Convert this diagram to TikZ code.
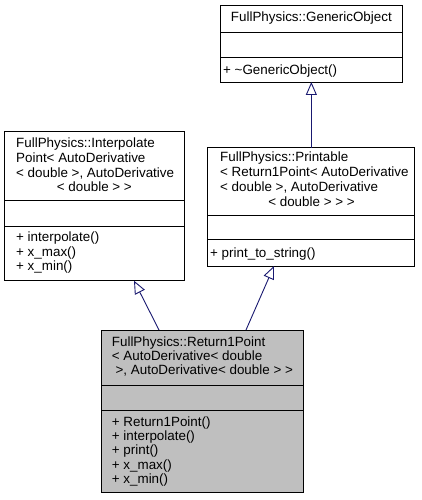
\documentclass[tikz,border=0pt]{standalone}
\usepackage{fontspec}
\setmainfont{Liberation Sans}
\usetikzlibrary{arrows.meta}
\definecolor{edgeblue}{HTML}{191970}
\definecolor{boxgray}{HTML}{BFBFBF}
\begin{document}
\begin{tikzpicture}[x=1pt,y=-1pt,
  box/.style={draw=black, line width=0.9pt, inner sep=0, outer sep=0, anchor=north west},
  sep/.style={draw=black, line width=0.9pt},
  txt/.style={inner sep=0, anchor=base west, font=\fontsize{13.4}{14.5}\selectfont},
  ctxt/.style={inner sep=0, anchor=base, font=\fontsize{13.4}{14.5}\selectfont},
  edge/.style={draw=edgeblue, line width=0.9pt, -{Triangle[open, length=13pt, width=11pt]}}]
\useasboundingbox (0,0) rectangle (421,500);
% GenericObject
\node[box, minimum width=181.3pt, minimum height=77pt] (gen) at (220.7,5) {};
\draw[sep] (220.7,32) -- (402,32);
\draw[sep] (220.7,57) -- (402,57);
\node[ctxt] (gent) at (311.35,22) {FullPhysics::GenericObject};
\node[txt] (genm) at (223,74.5) {+ \textasciitilde GenericObject()};
% InterpolatePoint
\node[box, minimum width=179.3pt, minimum height=149.7pt] (ip) at (4.7,131) {};
\draw[sep] (4.7,200.7) -- (184,200.7);
\draw[sep] (4.7,226) -- (184,226);
\node[txt] (ipt1) at (16,147.8) {FullPhysics::Interpolate};
\node[txt] (ipt2) at (16,162.5) {Point< AutoDerivative};
\node[txt] (ipt3) at (16,177.2) {< double >, AutoDerivative};
\node[ctxt] (ipt4) at (94.4,191.5) {< double > >};
\node[txt] (ipm1) at (16,241.8) {+ interpolate()};
\node[txt] (ipm2) at (16,256.3) {+ x\_max()};
\node[txt] (ipm3) at (16,270.3) {+ x\_min()};
% Printable
\node[box, minimum width=206.7pt, minimum height=118.5pt] (pr) at (207.3,147.5) {};
\draw[sep] (207.3,215) -- (414,215);
\draw[sep] (207.3,239.3) -- (414,239.3);
\node[txt] (prt1) at (220,161.2) {FullPhysics::Printable};
\node[txt] (prt2) at (220,176.4) {< Return1Point< AutoDerivative};
\node[txt] (prt3) at (220,191.2) {< double >, AutoDerivative};
\node[ctxt] (prt4) at (311.5,206.2) {< double > > >};
\node[txt] (prm1) at (210,257.8) {+ print\_to\_string()};
% Return1Point
\node[box, fill=boxgray, minimum width=202.7pt, minimum height=162.7pt] (r1) at (101,330) {};
\draw[sep] (101,385) -- (303.7,385);
\draw[sep] (101,410) -- (303.7,410);
\node[txt] (r1t1) at (111.7,346.2) {FullPhysics::Return1Point};
\node[txt] (r1t2) at (111.7,360.7) {< AutoDerivative< double};
\node[txt] (r1t3) at (111.7,374.9) {\ >, AutoDerivative< double > >};
\node[txt] (r1m1) at (111.7,426.2) {+ Return1Point()};
\node[txt] (r1m2) at (111.7,440.4) {+ interpolate()};
\node[txt] (r1m3) at (111.7,454.6) {+ print()};
\node[txt] (r1m4) at (111.7,469.3) {+ x\_max()};
\node[txt] (r1m5) at (111.7,483.5) {+ x\_min()};
% edges
\draw[edge] (gen.south |- pr.north) -- (gen.south);
\draw[edge] ([xshift=58pt]r1.north west) -- ([xshift=129.3pt]ip.south west);
\draw[edge] ([xshift=145pt]r1.north west) -- ([xshift=66.7pt]pr.south west);
\end{tikzpicture}
\end{document}
